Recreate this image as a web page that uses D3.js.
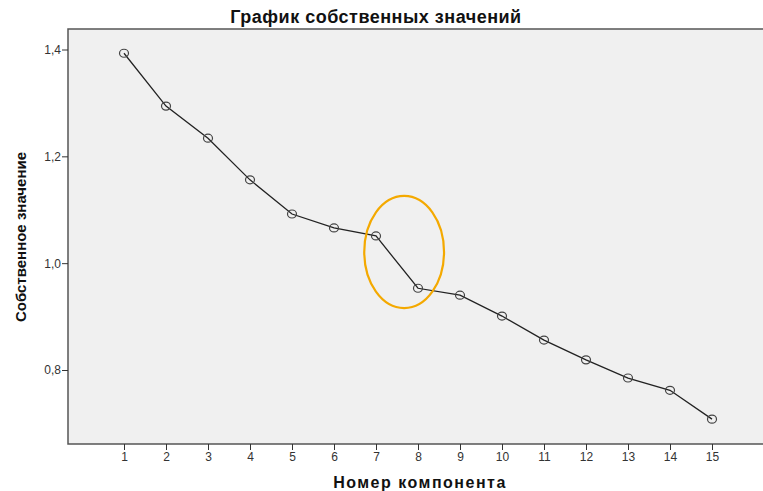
<!DOCTYPE html>
<html>
<head>
<meta charset="utf-8">
<script src="https://cdn.jsdelivr.net/npm/d3@7"></script>
<style>
  body { margin: 0; background: #fff; }
  svg { display: block; font-family: 'Liberation Sans', Arial, sans-serif; }
</style>
</head>
<body>
<div id="chart"></div>
<script>
// component numbers and eigenvalues
const components = [1, 2, 3, 4, 5, 6, 7, 8, 9, 10, 11, 12, 13, 14, 15]
const eigenvalues = [1.393, 1.294, 1.234, 1.156, 1.092, 1.066, 1.051, 0.953, 0.940, 0.901, 0.856, 0.819, 0.785, 0.762, 0.708]
const yTicks = [0.8, 1.0, 1.2, 1.4]
// highlighted break (center component, center value, half widths)
const highlight = { cx: 7.67, cy: 1.021, rx: 0.95, ry: 0.105 }

const width = 763
const height = 491
const frame = { left: 68, top: 29, right: 770, bottom: 444 }

const svg = d3.select('#chart').append('svg')
  .attr('width', width)
  .attr('height', height)

const x = d3.scaleLinear().domain([1, 15]).range([124, 712])
const y = d3.scaleLinear().domain([0.8, 1.4]).range([370, 49.5])

svg.append('rect')
  .attr('x', frame.left)
  .attr('y', frame.top)
  .attr('width', frame.right - frame.left)
  .attr('height', frame.bottom - frame.top)
  .attr('fill', '#f0f0f0')
  .attr('stroke', '#555')
  .attr('stroke-width', 1.5)

// y axis
const yAxis = svg.append('g')
  .attr('transform', 'translate(' + frame.left + ',0)')
  .call(d3.axisLeft(y).tickValues(yTicks).tickSize(6).tickSizeOuter(0)
    .tickFormat(d => d3.format('.1f')(d).replace('.', ',')))
yAxis.select('.domain').remove()
yAxis.selectAll('line').attr('stroke', '#333')
yAxis.selectAll('text').attr('fill', '#333').style('font-size', '12px').attr('x', -7)

// x axis
const xAxis = svg.append('g')
  .attr('transform', 'translate(0,' + frame.bottom + ')')
  .call(d3.axisBottom(x).tickValues(components).tickSize(6).tickSizeOuter(0)
    .tickFormat(d3.format('d')))
xAxis.select('.domain').remove()
xAxis.selectAll('line').attr('stroke', '#333')
xAxis.selectAll('text').attr('fill', '#333').style('font-size', '12px').attr('y', 8)

// line and markers
const pts = components.map((c, i) => ({ c: c, v: eigenvalues[i] }))

svg.append('path')
  .datum(pts)
  .attr('fill', 'none')
  .attr('stroke', '#222')
  .attr('stroke-width', 1.3)
  .attr('d', d3.line().x(d => x(d.c)).y(d => y(d.v)))

svg.selectAll('.dot')
  .data(pts)
  .join('ellipse')
  .attr('class', 'dot')
  .attr('cx', d => x(d.c))
  .attr('cy', d => y(d.v))
  .attr('rx', 4.5)
  .attr('ry', 4)
  .attr('fill', 'none')
  .attr('stroke', '#444')
  .attr('stroke-width', 1.2)

// orange annotation ellipse
svg.append('ellipse')
  .attr('cx', x(highlight.cx))
  .attr('cy', y(highlight.cy))
  .attr('rx', x(1 + highlight.rx) - x(1))
  .attr('ry', y(0.8) - y(0.8 + highlight.ry))
  .attr('fill', 'none')
  .attr('stroke', '#f4a900')
  .attr('stroke-width', 2.2)

// titles
svg.append('text')
  .attr('x', 376)
  .attr('y', 23)
  .attr('text-anchor', 'middle')
  .style('font-size', '18px')
  .style('font-weight', 'bold')
  .style('letter-spacing', '0.5px')
  .attr('fill', '#111')
  .text('График собственных значений')

svg.append('text')
  .attr('x', 420)
  .attr('y', 488)
  .attr('text-anchor', 'middle')
  .style('font-size', '16px')
  .style('font-weight', 'bold')
  .style('letter-spacing', '1.5px')
  .attr('fill', '#111')
  .text('Номер компонента')

svg.append('text')
  .attr('transform', 'translate(26,237) rotate(-90)')
  .attr('text-anchor', 'middle')
  .style('font-size', '15px')
  .style('font-weight', 'bold')
  .attr('fill', '#111')
  .text('Собственное значение')
</script>
</body>
</html>
